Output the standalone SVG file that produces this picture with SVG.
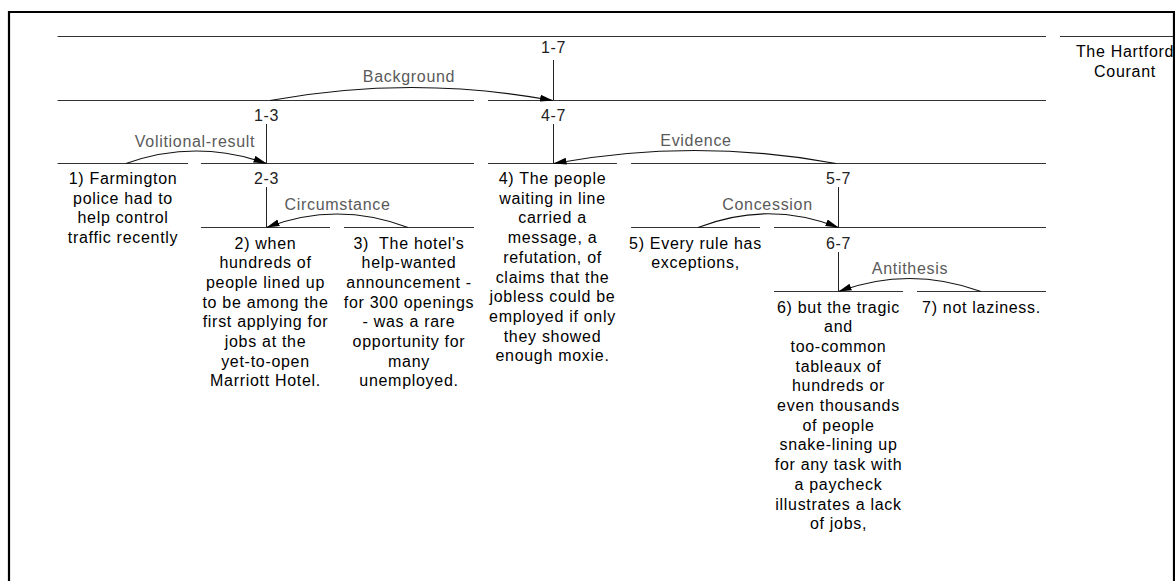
<svg xmlns="http://www.w3.org/2000/svg" width="1175" height="581" viewBox="0 0 1175 581">
<defs>
<style>
text{font-family:"Liberation Sans",Arial,sans-serif;font-size:16px;letter-spacing:0.7px;text-anchor:middle}
.t{fill:#000}
.n{fill:#222}
.r{fill:#5a5a5a}
.seg{stroke:#333;stroke-width:1;fill:none}
.v{stroke:#222;stroke-width:1;fill:none}
.arc{stroke:#111;stroke-width:1.2;fill:none;marker-end:url(#ah)}
</style>
<marker id="ah" markerWidth="13" markerHeight="8" refX="13" refY="4" orient="auto" markerUnits="userSpaceOnUse">
<path d="M0,0.5 L13,4 L0,7.5 z" fill="#000"/>
</marker>
</defs>
<rect width="1175" height="581" fill="#fff"/>

<g id="title">
<line class="seg" x1="1060" y1="36.5" x2="1175" y2="36.5"/>
<text class="t" x="1125" y="57">The Hartford</text>
<text class="t" x="1125" y="77">Courant</text>
</g>

<g id="span-1-7">
<line class="seg" x1="57.5" y1="36.5" x2="1046" y2="36.5"/>
<text class="n" x="553.5" y="52.5">1-7</text>
<line class="v" x1="553.5" y1="60" x2="553.5" y2="100.5"/>
</g>

<g id="span-1-3">
<line class="seg" x1="57.5" y1="100.5" x2="474" y2="100.5"/>
<text class="n" x="266.5" y="120.5">1-3</text>
<line class="v" x1="266.5" y1="124" x2="266.5" y2="163.5"/>
</g>

<g id="span-4-7">
<line class="seg" x1="488" y1="100.5" x2="1046" y2="100.5"/>
<text class="n" x="553.5" y="120.5">4-7</text>
<line class="v" x1="553.5" y1="124" x2="553.5" y2="163.5"/>
</g>

<g id="node-1">
<line class="seg" x1="57.5" y1="163.5" x2="188" y2="163.5"/>
<text class="t" x="123" y="184">1) Farmington</text>
<text class="t" x="123" y="203.7">police had to</text>
<text class="t" x="123" y="223.4">help control</text>
<text class="t" x="123" y="243.1">traffic recently</text>
</g>

<g id="span-2-3">
<line class="seg" x1="201" y1="163.5" x2="474" y2="163.5"/>
<text class="n" x="266.5" y="184">2-3</text>
<line class="v" x1="266.5" y1="187" x2="266.5" y2="227.5"/>
</g>

<g id="node-4">
<line class="seg" x1="488" y1="163.5" x2="617" y2="163.5"/>
<text class="t" x="552.5" y="184">4) The people</text>
<text class="t" x="552.5" y="203.7">waiting in line</text>
<text class="t" x="552.5" y="223.4">carried a</text>
<text class="t" x="552.5" y="243.1">message, a</text>
<text class="t" x="552.5" y="262.8">refutation, of</text>
<text class="t" x="552.5" y="282.5">claims that the</text>
<text class="t" x="552.5" y="302.2">jobless could be</text>
<text class="t" x="552.5" y="321.9">employed if only</text>
<text class="t" x="552.5" y="341.6">they showed</text>
<text class="t" x="552.5" y="361.3">enough moxie.</text>
</g>

<g id="span-5-7">
<line class="seg" x1="631" y1="163.5" x2="1046" y2="163.5"/>
<text class="n" x="838.5" y="184">5-7</text>
<line class="v" x1="838.5" y1="187" x2="838.5" y2="227.5"/>
</g>

<g id="node-2">
<line class="seg" x1="201" y1="227.5" x2="330" y2="227.5"/>
<text class="t" x="265.5" y="248.5">2) when</text>
<text class="t" x="265.5" y="268.2">hundreds of</text>
<text class="t" x="265.5" y="287.9">people lined up</text>
<text class="t" x="265.5" y="307.6">to be among the</text>
<text class="t" x="265.5" y="327.3">first applying for</text>
<text class="t" x="265.5" y="347">jobs at the</text>
<text class="t" x="265.5" y="366.7">yet-to-open</text>
<text class="t" x="265.5" y="386.4">Marriott Hotel.</text>
</g>

<g id="node-3">
<line class="seg" x1="344" y1="227.5" x2="474" y2="227.5"/>
<text class="t" x="409" y="248.5" xml:space="preserve">3)  The hotel's</text>
<text class="t" x="409" y="268.2">help-wanted</text>
<text class="t" x="409" y="287.9">announcement -</text>
<text class="t" x="409" y="307.6">for 300 openings</text>
<text class="t" x="409" y="327.3">- was a rare</text>
<text class="t" x="409" y="347">opportunity for</text>
<text class="t" x="409" y="366.7">many</text>
<text class="t" x="409" y="386.4">unemployed.</text>
</g>

<g id="node-5">
<line class="seg" x1="631" y1="227.5" x2="760" y2="227.5"/>
<text class="t" x="695.5" y="248.5">5) Every rule has</text>
<text class="t" x="695.5" y="268.2">exceptions,</text>
</g>

<g id="span-6-7">
<line class="seg" x1="774" y1="227.5" x2="1046" y2="227.5"/>
<text class="n" x="838.5" y="248.5">6-7</text>
<line class="v" x1="838.5" y1="252" x2="838.5" y2="291.5"/>
</g>

<g id="node-6">
<line class="seg" x1="774" y1="291.5" x2="903" y2="291.5"/>
<text class="t" x="838.5" y="312.5">6) but the tragic</text>
<text class="t" x="838.5" y="332.2">and</text>
<text class="t" x="838.5" y="351.9">too-common</text>
<text class="t" x="838.5" y="371.6">tableaux of</text>
<text class="t" x="838.5" y="391.3">hundreds or</text>
<text class="t" x="838.5" y="411">even thousands</text>
<text class="t" x="838.5" y="430.7">of people</text>
<text class="t" x="838.5" y="450.4">snake-lining up</text>
<text class="t" x="838.5" y="470.1">for any task with</text>
<text class="t" x="838.5" y="489.8">a paycheck</text>
<text class="t" x="838.5" y="509.5">illustrates a lack</text>
<text class="t" x="838.5" y="529.2">of jobs,</text>
</g>

<g id="node-7">
<line class="seg" x1="917" y1="291.5" x2="1046" y2="291.5"/>
<text class="t" x="981.5" y="312.5">7) not laziness.</text>
</g>

<g id="connectors">
<path class="arc" d="M270,100.5 Q411.5,74.5 553,100.5"/>
<text class="r" x="409" y="82">Background</text>
<path class="arc" d="M126,163.5 Q196,138.5 266.5,163.5"/>
<text class="r" x="195" y="147">Volitional-result</text>
<path class="arc" d="M836,163.5 Q694.5,137.5 553.5,163.5"/>
<text class="r" x="696" y="146">Evidence</text>
<path class="arc" d="M408,227.5 Q337,200.5 266.5,227.5"/>
<text class="r" x="337.5" y="210">Circumstance</text>
<path class="arc" d="M698,227.5 Q768,200 838.5,227.5"/>
<text class="r" x="767.5" y="210">Concession</text>
<path class="arc" d="M981,291.5 Q909.5,265.5 838.5,291.5"/>
<text class="r" x="910" y="274">Antithesis</text>
</g>

<path d="M9,590 V12 H1174 V590" fill="none" stroke="#000" stroke-width="2.2"/>
</svg>
